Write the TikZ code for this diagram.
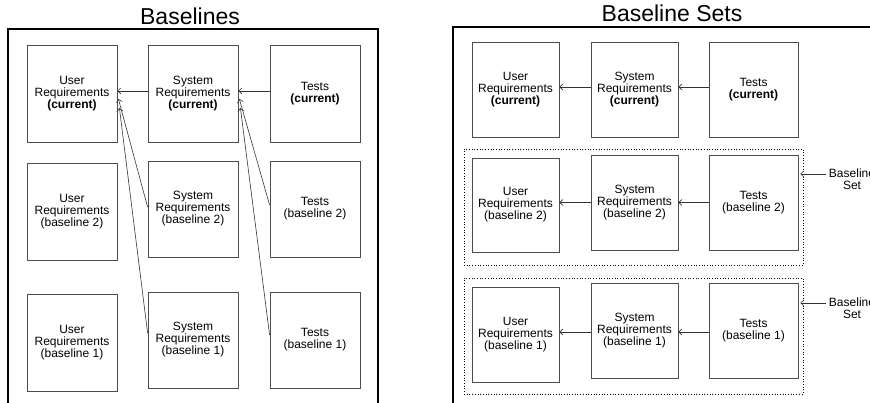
\documentclass[tikz,border=0pt]{standalone}
\usepackage{fontspec}
\setmainfont{Liberation Sans}
\usetikzlibrary{arrows.meta,calc}
\begin{document}
\begin{tikzpicture}[x=1pt,y=-1pt,
  box/.style={draw=black!70,line width=0.8pt,inner sep=0pt,align=center,font=\fontsize{12}{12}\selectfont},
  frame/.style={line width=2pt,black},
  arr/.style={draw=black!80,line width=0.6pt,-{Straight Barb[length=3pt,width=6pt]}},
  setbox/.style={draw,dotted,line width=0.7pt,inner sep=0pt},
  ttl/.style={font=\fontsize{23}{23}\selectfont,anchor=base,inner sep=0pt},
  lbl/.style={align=center,inner sep=0pt,font=\fontsize{12}{12}\selectfont}]
\useasboundingbox (0,0) rectangle (870,403);
% titles
\node[ttl] (t1) at (190,25) {Baselines};
\node[ttl] (t2) at (672,22) {Baseline Sets};
% frames
\draw[frame] (8,410) -- (8,29) -- (378,29) -- (378,410);
\draw[frame] (453,410) -- (453,27) -- (880,27);
% left panel boxes
\node[box,minimum width=90pt,minimum height=97pt] (lu0) at (72,93.5) {User\\Requirements\\\textbf{(current)}};
\node[box,minimum width=90pt,minimum height=97pt] (ls0) at (193,93.5) {System\\Requirements\\\textbf{(current)}};
\node[box,minimum width=90pt,minimum height=97pt] (lt0) at (315,93.5) {Tests\\\textbf{(current)}};
\node[box,minimum width=90pt,minimum height=97pt] (lu2) at (72,211.5) {User\\Requirements\\(baseline 2)};
\node[box,minimum width=90pt,minimum height=96pt] (ls2) at (193,209) {System\\Requirements\\(baseline 2)};
\node[box,minimum width=90pt,minimum height=96pt] (lt2) at (315,209) {Tests\\(baseline 2)};
\node[box,minimum width=90pt,minimum height=97pt] (lu1) at (72,342.5) {User\\Requirements\\(baseline 1)};
\node[box,minimum width=90pt,minimum height=96pt] (ls1) at (193,340) {System\\Requirements\\(baseline 1)};
\node[box,minimum width=90pt,minimum height=96pt] (lt1) at (315,340) {Tests\\(baseline 1)};
% left arrows
\draw[arr] ([yshift=2.5pt]ls0.west) -- ([yshift=2.5pt]ls0.west -| lu0.east);
\draw[arr] ([yshift=2.5pt]lt0.west) -- ([yshift=2.5pt]lt0.west -| ls0.east);
\draw[arr] ([yshift=2pt]ls2.west) -- ([xshift=1pt,yshift=-5.5pt]lu0.east);
\draw[arr] ([yshift=7pt]ls1.west) -- ([xshift=2pt,yshift=-14.5pt]lu0.east);
\draw[arr] ([yshift=4pt]lt2.west) -- ([xshift=1pt,yshift=-5.5pt]ls0.east);
\draw[arr] ([yshift=5pt]lt1.west) -- ([xshift=2pt,yshift=-14.5pt]ls0.east);
% right panel: baseline set outlines
\node[setbox,minimum width=339pt,minimum height=116pt] (set1) at (633.5,207) {};
\node[setbox,minimum width=339pt,minimum height=116pt] (set2) at (633.5,336) {};
% right panel boxes
\node[box,minimum width=87pt,minimum height=95pt] (ru0) at (515.5,89.5) {User\\Requirements\\\textbf{(current)}};
\node[box,minimum width=87pt,minimum height=95pt] (rs0) at (634.5,89.5) {System\\Requirements\\\textbf{(current)}};
\node[box,minimum width=89pt,minimum height=95pt] (rt0) at (753.5,89.5) {Tests\\\textbf{(current)}};
\node[box,minimum width=87pt,minimum height=94pt] (ru2) at (515.5,205) {User\\Requirements\\(baseline 2)};
\node[box,minimum width=87pt,minimum height=95pt] (rs2) at (634.5,202.5) {System\\Requirements\\(baseline 2)};
\node[box,minimum width=89pt,minimum height=95pt] (rt2) at (753.5,202.5) {Tests\\(baseline 2)};
\node[box,minimum width=87pt,minimum height=95pt] (ru1) at (515.5,334.5) {User\\Requirements\\(baseline 1)};
\node[box,minimum width=87pt,minimum height=95pt] (rs1) at (634.5,330.5) {System\\Requirements\\(baseline 1)};
\node[box,minimum width=89pt,minimum height=95pt] (rt1) at (753.5,330.5) {Tests\\(baseline 1)};
% right arrows
\draw[arr] ([yshift=2.5pt]rs0.west) -- ([yshift=2.5pt]rs0.west -| ru0.east);
\draw[arr] ([yshift=2.5pt]rt0.west) -- ([yshift=2.5pt]rt0.west -| rs0.east);
\draw[arr] (rs2.west) -- (rs2.west -| ru2.east);
\draw[arr] (rt2.west) -- (rt2.west -| rs2.east);
\draw[arr] ([yshift=-1.5pt]rs1.west) -- ([yshift=-1.5pt]rs1.west -| ru1.east);
\draw[arr] ([yshift=-1.5pt]rt1.west) -- ([yshift=-1.5pt]rt1.west -| rs1.east);
% baseline set labels
\node[lbl] (bl1) at (852,179) {Baseline\\Set};
\node[lbl] (bl2) at (852,308) {Baseline\\Set};
\draw[arr] ([xshift=-3pt,yshift=5pt]bl1.west) -- ([xshift=-3pt,yshift=5pt]bl1.west -| set1.east);
\draw[arr] ([xshift=-3pt,yshift=5pt]bl2.west) -- ([xshift=-3pt,yshift=5pt]bl2.west -| set2.east);
\end{tikzpicture}
\end{document}
